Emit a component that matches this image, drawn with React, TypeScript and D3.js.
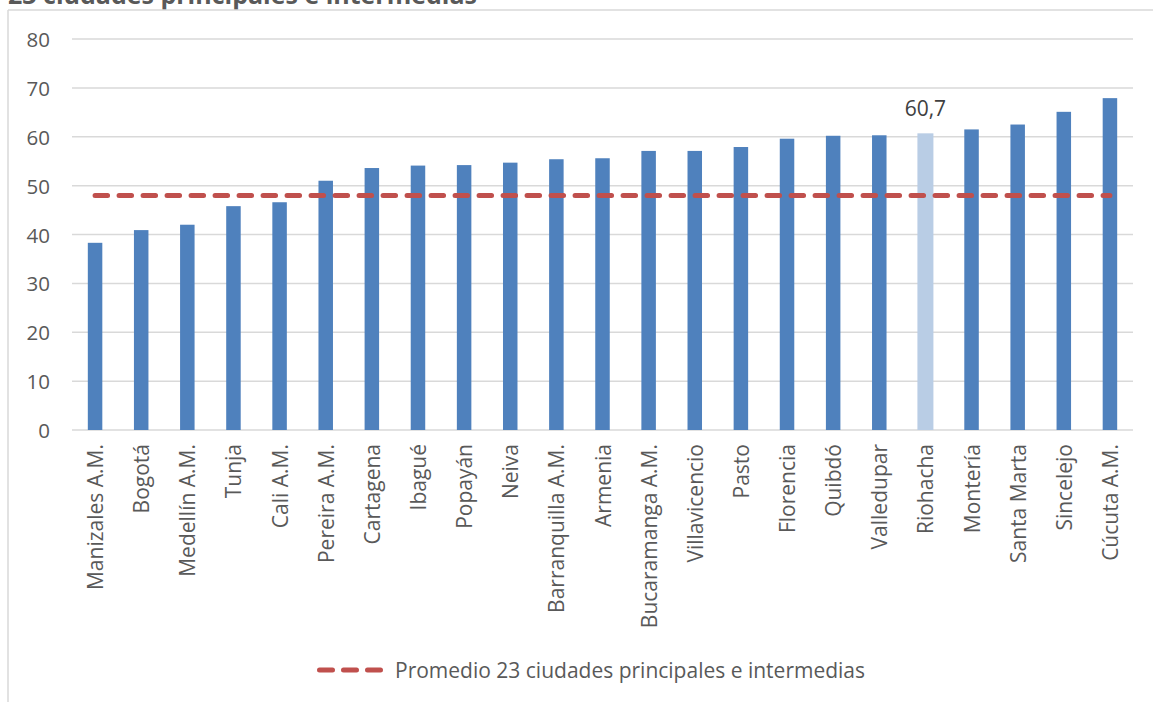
import React from "react";
import * as d3 from "d3";

const categories = [
  "Manizales A.M.", "Bogotá", "Medellín A.M.", "Tunja", "Cali A.M.", "Pereira A.M.",
  "Cartagena", "Ibagué", "Popayán", "Neiva", "Barranquilla A.M.", "Armenia",
  "Bucaramanga A.M.", "Villavicencio", "Pasto", "Florencia", "Quibdó", "Valledupar",
  "Riohacha", "Montería", "Santa Marta", "Sincelejo", "Cúcuta A.M.",
];
const values = [
  38.3, 40.9, 42.0, 45.8, 46.6, 51.0, 53.6, 54.1, 54.2, 54.7, 55.4, 55.6,
  57.1, 57.1, 57.9, 59.6, 60.2, 60.3, 60.7, 61.5, 62.5, 65.1, 67.9,
];
const averageValue = 48.0;
const highlighted = "Riohacha";
const highlightLabel = "60,7";
const yTicks = [0, 10, 20, 30, 40, 50, 60, 70, 80];
const titleText = "23 ciudades principales e intermedias";
const legendText = "Promedio 23 ciudades principales e intermedias";

const W = 1153;
const H = 702;
const FONT = "'Open Sans', sans-serif";

export default function App() {
  const x = d3.scaleBand<string>().domain(categories).range([72, 1133]).paddingInner(0).paddingOuter(0);
  const y = d3.scaleLinear().domain([0, 80]).range([430, 39]);
  const bw = 14.5;
  const lineGen = d3
    .line<number>()
    .x((_, i) => (x(categories[i]) as number) + x.bandwidth() / 2)
    .y((v) => y(v));
  const avgData = categories.map(() => averageValue);
  const hiIdx = categories.indexOf(highlighted);

  return (
    <svg
      width={W}
      height={H}
      style={{ position: "absolute", left: 0, top: 0, background: "#fff" }}
      fontFamily={FONT}
    >
      <rect x={0} y={0} width={W} height={H} fill="#fff" />
      <text x={8} y={4} fontSize={25} fontWeight="bold" fill="#595959">
        {titleText}
      </text>
      {/* chart border */}
      <rect x={8} y={10} width={W} height={H} fill="#fff" />
      <line x1={8} y1={10} x2={W} y2={10} stroke="#D9D9D9" strokeWidth={1.5} />
      <line x1={8} y1={10} x2={8} y2={H} stroke="#D9D9D9" strokeWidth={1.5} />

      {/* gridlines */}
      {yTicks.map((t) => (
        <g key={t}>
          <line x1={72} x2={1133} y1={y(t)} y2={y(t)} stroke="#D9D9D9" strokeWidth={1.5} />
          <text
            x={50}
            y={y(t)}
            textAnchor="end"
            dominantBaseline="central"
            fontSize={20.5}
            fill="#595959"
          >
            {t}
          </text>
        </g>
      ))}

      {/* bars */}
      {categories.map((c, i) => {
        const cx = (x(c) as number) + x.bandwidth() / 2;
        const isHi = c === highlighted;
        const w = isHi ? 16 : bw;
        return (
          <rect
            key={c}
            x={cx - w / 2}
            y={y(values[i])}
            width={w}
            height={y(0) - y(values[i])}
            fill={isHi ? "#B9CDE5" : "#4F81BD"}
          />
        );
      })}

      {/* average line */}
      <path
        d={lineGen(avgData) || ""}
        fill="none"
        stroke="#C0504D"
        strokeWidth={5}
        strokeDasharray="12.5 11.5"
        strokeLinecap="round"
      />

      {/* data label */}
      <text
        x={(x(highlighted) as number) + x.bandwidth() / 2}
        y={y(values[hiIdx]) - 17}
        textAnchor="middle"
        fontSize={21}
        fill="#404040"
      >
        {highlightLabel}
      </text>

      {/* category labels */}
      {categories.map((c) => {
        const cx = (x(c) as number) + x.bandwidth() / 2;
        return (
          <text
            key={c}
            transform={`translate(${cx},444) rotate(-90)`}
            textAnchor="end"
            dominantBaseline="central"
            fontSize={21}
            fill="#595959"
          >
            {c}
          </text>
        );
      })}

      {/* legend */}
      <line
        x1={319.5}
        x2={380.5}
        y1={670}
        y2={670}
        stroke="#C0504D"
        strokeWidth={5}
        strokeDasharray="13 11"
        strokeLinecap="round"
      />
      <text x={395} y={670} dominantBaseline="central" fontSize={21} fill="#595959">
        {legendText}
      </text>
    </svg>
  );
}
